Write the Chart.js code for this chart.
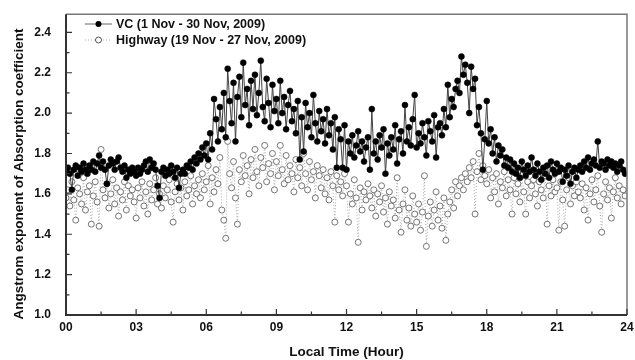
<!DOCTYPE html>
<html lang="en">
<head>
  <meta charset="UTF-8">
  <title>Angstrom exponent of Absorption coefficient</title>
  <script src="https://cdn.jsdelivr.net/npm/chart.js"></script>
  <style>
    body { margin: 0; padding: 0; background: #fff; }
    #wrap { width: 635px; height: 360px; }
  </style>
</head>
<body>
  <div id="wrap"><canvas id="chart" width="635" height="360"></canvas></div>
  <script>
    // 5-minute means, 12 values per hour, 00:00 .. 23:55
    const vc = [
      1.71,1.73,1.70,1.62,1.72,1.74,1.69,1.73,1.71,1.75,1.72,1.70,
      1.74,1.72,1.76,1.71,1.75,1.79,1.73,1.76,1.72,1.65,1.74,1.77,
      1.75,1.72,1.76,1.78,1.73,1.71,1.74,1.68,1.72,1.70,1.73,1.71,
      1.69,1.73,1.70,1.72,1.74,1.76,1.71,1.77,1.73,1.75,1.72,1.64,
      1.58,1.71,1.73,1.69,1.72,1.70,1.74,1.71,1.68,1.73,1.63,1.70,
      1.72,1.70,1.74,1.73,1.76,1.72,1.78,1.75,1.80,1.77,1.83,1.79,
      1.85,1.77,1.90,1.82,2.07,1.97,1.86,2.03,1.92,2.10,1.88,2.22,
      2.06,1.95,2.15,1.86,2.08,2.18,1.98,2.25,2.04,2.12,1.94,2.16,
      2.02,2.19,1.99,2.10,2.26,2.03,1.96,2.17,2.05,1.93,2.14,2.01,
      2.07,1.95,2.16,2.00,2.08,1.92,2.04,2.11,1.96,2.02,1.90,2.06,
      1.77,1.98,1.81,2.05,1.93,2.00,1.88,2.09,1.95,1.86,2.01,1.91,
      1.97,1.85,2.02,1.89,1.95,1.82,1.98,1.73,1.92,1.87,1.73,1.94,
      1.72,1.86,1.80,1.89,1.78,1.84,1.91,1.81,1.86,1.76,1.83,1.88,
      1.72,2.02,1.80,1.86,1.77,1.89,1.83,1.92,1.70,1.85,1.79,1.88,
      1.82,1.94,1.75,1.87,1.91,1.80,2.04,1.86,1.93,1.84,1.97,2.09,
      1.83,1.90,1.85,1.95,1.88,1.79,1.96,1.91,1.86,1.99,1.78,1.93,
      1.95,1.89,2.02,1.93,2.14,1.98,2.07,2.03,2.12,2.16,2.10,2.28,
      2.19,2.24,2.15,2.00,2.23,2.12,2.17,1.94,2.03,1.90,1.72,1.87,
      2.06,1.85,1.92,1.80,1.88,1.76,1.84,1.79,1.82,1.74,1.78,1.73,
      1.77,1.71,1.75,1.70,1.73,1.68,1.76,1.72,1.69,1.74,1.71,1.78,
      1.72,1.69,1.75,1.71,1.67,1.73,1.70,1.74,1.68,1.76,1.72,1.70,
      1.75,1.71,1.73,1.66,1.72,1.69,1.74,1.65,1.71,1.73,1.68,1.72,
      1.74,1.71,1.76,1.73,1.78,1.72,1.75,1.77,1.74,1.86,1.73,1.76,
      1.75,1.72,1.77,1.74,1.76,1.73,1.75,1.71,1.74,1.76,1.72,1.70
    ];
    const highway = [
      1.58,1.62,1.54,1.66,1.57,1.47,1.63,1.60,1.55,1.68,1.52,1.61,
      1.64,1.45,1.59,1.66,1.56,1.44,1.82,1.62,1.58,1.65,1.53,1.60,
      1.67,1.55,1.63,1.49,1.61,1.57,1.66,1.52,1.64,1.59,1.62,1.56,
      1.48,1.63,1.58,1.66,1.54,1.61,1.50,1.65,1.57,1.62,1.68,1.55,
      1.60,1.53,1.64,1.58,1.62,1.67,1.56,1.46,1.61,1.65,1.57,1.63,
      1.52,1.66,1.59,1.62,1.69,1.55,1.64,1.60,1.67,1.58,1.70,1.62,
      1.66,1.74,1.55,1.68,1.61,1.72,1.65,1.78,1.52,1.47,1.38,1.86,
      1.70,1.63,1.76,1.58,1.45,1.72,1.66,1.79,1.69,1.74,1.60,1.77,
      1.68,1.82,1.71,1.64,1.78,1.73,1.84,1.66,1.75,1.70,1.80,1.62,
      1.76,1.69,1.84,1.72,1.65,1.79,1.67,1.74,1.70,1.61,1.77,1.68,
      1.73,1.64,1.80,1.70,1.62,1.76,1.67,1.71,1.58,1.74,1.69,1.63,
      1.72,1.60,1.68,1.57,1.71,1.64,1.46,1.69,1.62,1.66,1.59,1.70,
      1.64,1.46,1.60,1.55,1.67,1.58,1.36,1.63,1.52,1.61,1.57,1.65,
      1.59,1.53,1.62,1.49,1.60,1.56,1.64,1.51,1.58,1.45,1.61,1.54,
      1.57,1.48,1.68,1.52,1.41,1.55,1.62,1.47,1.53,1.44,1.59,1.50,
      1.46,1.55,1.42,1.51,1.69,1.34,1.49,1.56,1.44,1.52,1.61,1.47,
      1.54,1.43,1.58,1.37,1.50,1.56,1.62,1.53,1.66,1.59,1.64,1.68,
      1.62,1.70,1.66,1.73,1.68,1.76,1.50,1.71,1.80,1.67,1.74,1.69,
      1.65,1.72,1.58,1.68,1.61,1.70,1.55,1.66,1.63,1.71,1.59,1.67,
      1.62,1.50,1.68,1.60,1.65,1.56,1.69,1.61,1.50,1.66,1.58,1.64,
      1.67,1.60,1.54,1.66,1.62,1.58,1.69,1.45,1.64,1.59,1.67,1.61,
      1.63,1.42,1.66,1.57,1.44,1.62,1.68,1.55,1.64,1.59,1.66,1.61,
      1.58,1.65,1.52,1.63,1.47,1.60,1.67,1.56,1.62,1.69,1.54,1.41,
      1.60,1.66,1.57,1.63,1.48,1.61,1.68,1.58,1.64,1.55,1.62,1.59
    ];
    const xTicks = [0, 3, 6, 9, 12, 15, 18, 21, 24];
    const yTicks = [1.0, 1.2, 1.4, 1.6, 1.8, 2.0, 2.2, 2.4];
    const seriesNames = ['VC (1 Nov - 30 Nov, 2009)', 'Highway (19 Nov - 27 Nov, 2009)'];

    const FONT = "'Liberation Sans', Arial, sans-serif";
    const toPoints = arr => arr.map((v, i) => ({ x: i / 12, y: v }));

    // frame, inward ticks, axis titles and legend
    const decor = {
      id: 'decor',
      afterDraw(chart) {
        const { ctx, chartArea: a, scales: { x, y } } = chart;
        ctx.save();
        // top / right frame
        ctx.strokeStyle = '#777';
        ctx.lineWidth = 1.5;
        ctx.beginPath();
        ctx.moveTo(a.left, a.top); ctx.lineTo(a.right, a.top); ctx.lineTo(a.right, a.bottom);
        ctx.stroke();
        // left / bottom axes
        ctx.strokeStyle = '#333';
        ctx.lineWidth = 2;
        ctx.beginPath();
        ctx.moveTo(a.left, a.top); ctx.lineTo(a.left, a.bottom); ctx.lineTo(a.right, a.bottom);
        ctx.stroke();
        // ticks
        ctx.lineWidth = 1.2;
        ctx.beginPath();
        for (let h = 0; h <= 24; h += 1.5) {
          const px = x.getPixelForValue(h);
          const len = h % 3 === 0 ? 6 : 3.5;
          ctx.moveTo(px, a.bottom); ctx.lineTo(px, a.bottom - len);
        }
        for (let k = 0; k <= 14; k++) {
          const py = y.getPixelForValue(1 + k * 0.1);
          const len = k % 2 === 0 ? 6 : 3.5;
          ctx.moveTo(a.left, py); ctx.lineTo(a.left + len, py);
        }
        ctx.stroke();

        // axis titles
        ctx.fillStyle = '#111';
        ctx.font = 'bold 13.5px ' + FONT;
        ctx.textAlign = 'center';
        ctx.textBaseline = 'middle';
        ctx.fillText('Local Time (Hour)', (a.left + a.right) / 2, 352);
        ctx.save();
        ctx.translate(19, 174);
        ctx.rotate(-Math.PI / 2);
        ctx.fillText('Angstrom exponent of Absorption coefficient', 0, 0);
        ctx.restore();

        // legend
        const rows = [24, 40];
        ctx.font = 'bold 12.5px ' + FONT;
        ctx.textAlign = 'left';
        rows.forEach((ry, i) => {
          ctx.beginPath();
          if (i === 0) {
            ctx.strokeStyle = '#666'; ctx.lineWidth = 1; ctx.setLineDash([]);
          } else {
            ctx.strokeStyle = '#aaa'; ctx.lineWidth = 1; ctx.setLineDash([1, 2]);
          }
          ctx.moveTo(85, ry); ctx.lineTo(112, ry);
          ctx.stroke();
          ctx.setLineDash([]);
          ctx.beginPath();
          ctx.arc(98.5, ry, 3, 0, Math.PI * 2);
          if (i === 0) {
            ctx.fillStyle = '#000'; ctx.fill();
          } else {
            ctx.fillStyle = '#fff'; ctx.fill();
            ctx.strokeStyle = '#555'; ctx.lineWidth = 1; ctx.stroke();
          }
          ctx.fillStyle = '#111';
          ctx.fillText(seriesNames[i], 116, ry + 0.5);
        });
        ctx.restore();
      }
    };

    new Chart(document.getElementById('chart'), {
      type: 'line',
      data: {
        datasets: [
          {
            label: seriesNames[0],
            data: toPoints(vc),
            borderColor: '#444',
            borderWidth: 1,
            pointRadius: 3,
            pointBackgroundColor: '#000',
            pointBorderColor: '#000',
            pointBorderWidth: 0.5,
            tension: 0
          },
          {
            label: seriesNames[1],
            data: toPoints(highway),
            borderColor: '#aaa',
            borderWidth: 1,
            borderDash: [1, 2],
            pointRadius: 3,
            pointBackgroundColor: '#fff',
            pointBorderColor: '#666',
            pointBorderWidth: 0.9,
            tension: 0
          }
        ]
      },
      options: {
        responsive: false,
        animation: false,
        devicePixelRatio: 1,
        layout: { padding: { left: 0, right: 8, top: 10, bottom: 0 } },
        plugins: { legend: { display: false }, tooltip: { enabled: false } },
        scales: {
          x: {
            type: 'linear',
            min: 0,
            max: 24,
            grid: { display: false },
            border: { display: false },
            afterBuildTicks: s => { s.ticks = xTicks.map(v => ({ value: v })); },
            afterFit: s => { s.height = 45; },
            ticks: {
              padding: -3,
              color: '#111',
              font: { family: FONT, size: 12, weight: 'bold' },
              maxRotation: 0,
              callback: v => String(v).padStart(2, '0')
            }
          },
          y: {
            min: 1.0,
            max: 2.49,
            grid: { display: false },
            border: { display: false },
            afterBuildTicks: s => { s.ticks = yTicks.map(v => ({ value: v })); },
            afterFit: s => { s.width = 66; },
            ticks: {
              padding: 7,
              color: '#111',
              font: { family: FONT, size: 12, weight: 'bold' },
              callback: v => Number(v).toFixed(1)
            }
          }
        }
      },
      plugins: [decor]
    });
  </script>
</body>
</html>
